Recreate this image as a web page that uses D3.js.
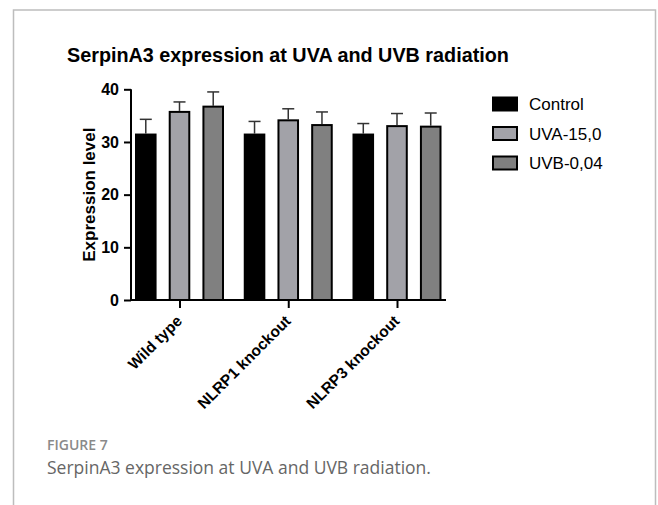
<!DOCTYPE html>
<html>
<head>
<meta charset="utf-8">
<script src="https://d3js.org/d3.v7.min.js"></script>
<style>
  body { margin: 0; background: #fff; }
  svg { display: block; }
  .axis text { font-family: "Liberation Sans", Arial, sans-serif; font-weight: bold; font-size: 16px; fill: #000; }
</style>
</head>
<body>
<div id="chart"></div>
<script>
// data
var groups = ["Wild type", "NLRP1 knockout", "NLRP3 knockout"]
var series = ["Control", "UVA-15,0", "UVB-0,04"]
var means = [
  [31.6, 35.9, 36.9],
  [31.6, 34.3, 33.4],
  [31.6, 33.2, 33.1]
]
var errTop = [
  [34.3, 37.6, 39.5],
  [33.9, 36.3, 35.7],
  [33.5, 35.4, 35.5]
]
var yTicks = [0, 10, 20, 30, 40]

var colours = ["#000000", "#a2a2a8", "#808080"]

var W = 658, H = 505

var svg = d3.select("#chart").append("svg")
  .attr("width", W).attr("height", H)

// figure frame
svg.append("path")
  .attr("d", "M13.5,505 V10 H655.5 V505")
  .attr("fill", "none").attr("stroke", "#bdbdbd").attr("stroke-width", 1.5)

svg.append("text")
  .attr("x", 67).attr("y", 62)
  .style("font-family", "Liberation Sans, Arial, sans-serif")
  .style("font-weight", "bold").style("font-size", "19.8px")
  .text("SerpinA3 expression at UVA and UVB radiation")

var y = d3.scaleLinear().domain([0, 40]).range([300, 89.3])

var x = d3.scalePoint().domain(groups).range([179.5, 397])
var xs = d3.scaleBand().domain(series).range([-44.5, 44.5]).paddingInner(0.36)

// y axis
var yAxis = svg.append("g").attr("class", "axis")
  .attr("transform", "translate(131,0)")
  .call(d3.axisLeft(y).tickValues(yTicks).tickSize(7).tickPadding(5))
yAxis.select(".domain").attr("stroke-width", 2).attr("d", "M0," + y(40) + "V" + y(0))
yAxis.selectAll(".tick line").attr("stroke-width", 2)

// x axis
svg.append("line")
  .attr("x1", 130).attr("x2", 446).attr("y1", y(0)).attr("y2", y(0))
  .attr("stroke", "#000").attr("stroke-width", 2)

var xAxis = svg.append("g").attr("class", "axis")
  .attr("transform", "translate(0," + y(0) + ")")
  .call(d3.axisBottom(x).tickSize(8))
xAxis.select(".domain").remove()
xAxis.selectAll(".tick line").attr("stroke-width", 2)
xAxis.selectAll(".tick text")
  .style("font-size", "15.5px")
  .attr("text-anchor", "end")
  .attr("x", 0).attr("y", 0).attr("dy", 0)
  .attr("transform", "translate(3,22) rotate(-45)")

svg.append("text")
  .attr("transform", "translate(95," + ((y(0) + y(40)) / 2) + ") rotate(-90)")
  .attr("text-anchor", "middle")
  .style("font-family", "Liberation Sans, Arial, sans-serif")
  .style("font-weight", "bold").style("font-size", "17px")
  .text("Expression level")

// bars
var cells = []
groups.forEach(function (g, gi) {
  series.forEach(function (s, si) {
    cells.push({ g: g, s: s, si: si, v: means[gi][si], e: errTop[gi][si] })
  })
})

var bw = xs.bandwidth()

// error bars (drawn first, bar covers the lower part)
var eb = svg.append("g").selectAll("g").data(cells).enter().append("g")
eb.append("line")
  .attr("x1", function (d) { return x(d.g) + xs(d.s) + bw / 2 })
  .attr("x2", function (d) { return x(d.g) + xs(d.s) + bw / 2 })
  .attr("y1", function (d) { return y(d.v) })
  .attr("y2", function (d) { return y(d.e) })
  .attr("stroke", "#333").attr("stroke-width", 1.5)
eb.append("line")
  .attr("x1", function (d) { return x(d.g) + xs(d.s) + bw / 2 - 6 })
  .attr("x2", function (d) { return x(d.g) + xs(d.s) + bw / 2 + 6 })
  .attr("y1", function (d) { return y(d.e) })
  .attr("y2", function (d) { return y(d.e) })
  .attr("stroke", "#333").attr("stroke-width", 1.5)

svg.append("g").selectAll("rect").data(cells).enter().append("rect")
  .attr("x", function (d) { return x(d.g) + xs(d.s) + 1 })
  .attr("width", bw - 2)
  .attr("y", function (d) { return y(d.v) + 1 })
  .attr("height", function (d) { return y(0) - y(d.v) - 1 })
  .attr("fill", function (d) { return colours[d.si] })
  .attr("stroke", "#000").attr("stroke-width", 2)

// legend
var lg = svg.append("g").selectAll("g").data(series).enter().append("g")
  .attr("transform", function (d, i) { return "translate(493," + (104 + i * 29.5) + ")" })
lg.append("rect")
  .attr("x", 0).attr("y", -6.5).attr("width", 24).attr("height", 13)
  .attr("fill", function (d, i) { return colours[i] })
  .attr("stroke", "#000").attr("stroke-width", 2)
lg.append("text")
  .attr("x", 36).attr("dy", "0.36em")
  .style("font-family", "Liberation Sans, Arial, sans-serif")
  .style("font-size", "17px")
  .text(function (d) { return d })

// caption
svg.append("text")
  .attr("x", 47).attr("y", 450)
  .style("font-family", "Open Sans, sans-serif")
  .style("font-size", "14px").style("font-weight", "600")
  .attr("fill", "#8a8a8a")
  .text("FIGURE 7")
svg.append("text")
  .attr("x", 47).attr("y", 474)
  .style("font-family", "Open Sans, sans-serif")
  .style("font-size", "17.5px")
  .attr("fill", "#666")
  .text("SerpinA3 expression at UVA and UVB radiation.")
</script>
</body>
</html>
